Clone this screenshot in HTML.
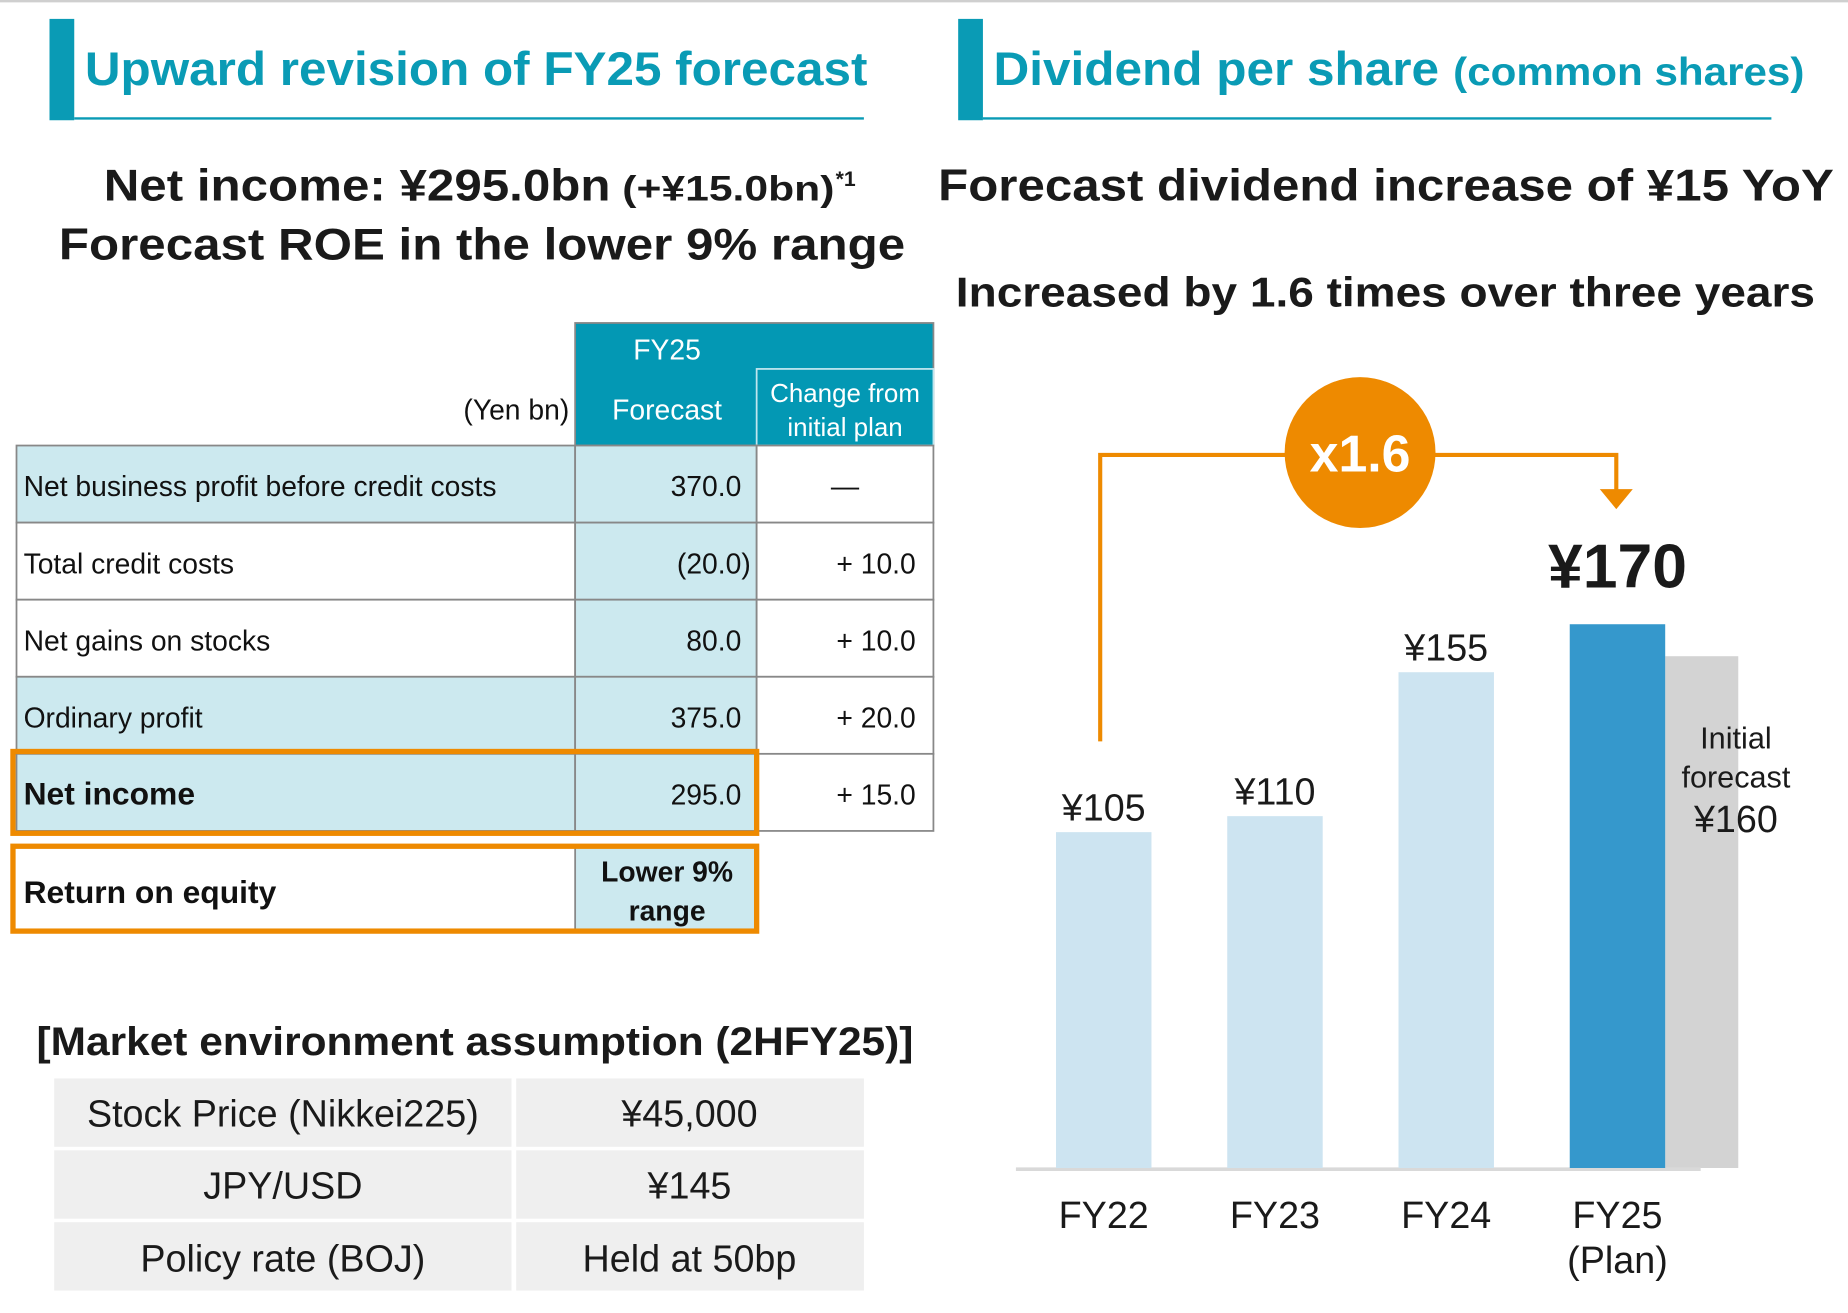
<!DOCTYPE html>
<html><head><meta charset="utf-8">
<style>
html,body{margin:0;padding:0;background:#fff;}
svg{display:block;font-family:"Liberation Sans",Arial,sans-serif;}
</style></head>
<body>
<svg id="root" width="1848" height="1313" viewBox="0 0 1568 1114">
  <line x1="0" y1="1" x2="1568" y2="1" stroke="#cfcfcf" stroke-width="2"/>
  <g>
    <rect x="42" y="16" width="21" height="86" fill="#0a9bb5"/>
    <line x1="63" y1="100.5" x2="733" y2="100.5" stroke="#0a9bb5" stroke-width="2"/>
    <text x="72" y="72" font-size="40" font-weight="bold" fill="#0a9bb5" textLength="664" lengthAdjust="spacingAndGlyphs">Upward revision of FY25 forecast</text>
  </g>
  <g>
    <rect x="813" y="16" width="21" height="86" fill="#0a9bb5"/>
    <line x1="834" y1="100.5" x2="1503" y2="100.5" stroke="#0a9bb5" stroke-width="2"/>
    <text x="843" y="72" font-size="40" font-weight="bold" fill="#0a9bb5" textLength="378" lengthAdjust="spacingAndGlyphs">Dividend per share</text>
    <text x="1233" y="72" font-size="33" font-weight="bold" fill="#0a9bb5" textLength="298" lengthAdjust="spacingAndGlyphs">(common shares)</text>
  </g>
  <text x="88" y="170" font-size="38" font-weight="bold" fill="#1a1a1a" textLength="430" lengthAdjust="spacingAndGlyphs">Net income: ¥295.0bn</text>
  <text x="528" y="170" font-size="30" font-weight="bold" fill="#1a1a1a" textLength="180" lengthAdjust="spacingAndGlyphs">(+¥15.0bn)</text>
  <text x="709" y="158" font-size="18" font-weight="bold" fill="#1a1a1a">*1</text>
  <text x="50" y="220" font-size="38" font-weight="bold" fill="#1a1a1a" textLength="718" lengthAdjust="spacingAndGlyphs">Forecast ROE in the lower 9% range</text>
  <text x="796" y="170" font-size="38" font-weight="bold" fill="#1a1a1a" textLength="760" lengthAdjust="spacingAndGlyphs">Forecast dividend increase of ¥15 YoY</text>
  <text x="811" y="260" font-size="35" font-weight="bold" fill="#1a1a1a" textLength="729" lengthAdjust="spacingAndGlyphs">Increased by 1.6 times over three years</text>

  <g font-size="24" fill="#111">
    <rect x="488" y="274" width="304" height="104" fill="#0398b4" stroke="#888" stroke-width="1.5"/>
    <rect x="642" y="313" width="150" height="65" fill="#0398b4" stroke="#bfe5ee" stroke-width="1.5"/>
    <text x="566" y="305" text-anchor="middle" fill="#fff">FY25</text>
    <text x="566" y="356" text-anchor="middle" fill="#fff">Forecast</text>
    <text x="717" y="341" text-anchor="middle" fill="#fff" font-size="22">Change from</text>
    <text x="717" y="370" text-anchor="middle" fill="#fff" font-size="22">initial plan</text>
    <text x="483" y="356" text-anchor="end">(Yen bn)</text>
    <g id="rows"></g>
  </g>
  <g>
    <rect x="12" y="718" width="476" height="71" fill="#fff"/>
    <rect x="488" y="718" width="153" height="71" fill="#cce9ef"/>
    <line x1="488" y1="718" x2="488" y2="789" stroke="#888" stroke-width="1.5"/>
    <text x="20" y="766" font-size="27" font-weight="bold" fill="#111">Return on equity</text>
    <text x="566" y="748" text-anchor="middle" font-size="24" font-weight="bold" fill="#111">Lower 9%</text>
    <text x="566" y="781" text-anchor="middle" font-size="24" font-weight="bold" fill="#111">range</text>
    <rect x="11" y="718" width="631" height="72" fill="none" stroke="#ee8a00" stroke-width="4.5"/>
  </g>

  <text x="403" y="895" text-anchor="middle" font-size="34" font-weight="bold" fill="#1a1a1a" textLength="744" lengthAdjust="spacingAndGlyphs">[Market environment assumption (2HFY25)]</text>
  <g font-size="32" fill="#1a1a1a">
    <rect x="46" y="915" width="388" height="58" fill="#efefef"/><rect x="438" y="915" width="295" height="58" fill="#efefef"/>
    <rect x="46" y="976" width="388" height="58" fill="#efefef"/><rect x="438" y="976" width="295" height="58" fill="#efefef"/>
    <rect x="46" y="1037" width="388" height="58" fill="#efefef"/><rect x="438" y="1037" width="295" height="58" fill="#efefef"/>
    <text x="240" y="956" text-anchor="middle">Stock Price (Nikkei225)</text>
    <text x="585" y="956" text-anchor="middle">¥45,000</text>
    <text x="240" y="1017" text-anchor="middle">JPY/USD</text>
    <text x="585" y="1017" text-anchor="middle">¥145</text>
    <text x="240" y="1079" text-anchor="middle">Policy rate (BOJ)</text>
    <text x="585" y="1079" text-anchor="middle">Held at 50bp</text>
  </g>

  <g id="chart"></g>
</svg>
<script>
const NS='http://www.w3.org/2000/svg';
function mk(parent,tag,attrs,text){const e=document.createElementNS(NS,tag);for(const k in attrs)e.setAttribute(k,attrs[k]);if(text!==undefined)e.textContent=text;parent.appendChild(e);return e;}

const rowLabels=['Net business profit before credit costs','Total credit costs','Net gains on stocks','Ordinary profit','Net income'];
const rowForecast=['370.0','(20.0)','80.0','375.0','295.0'];
const rowChange=['—','+ 10.0','+ 10.0','+ 20.0','+ 15.0'];
const rowShaded=[true,false,false,true,true];

const rows=document.getElementById('rows');
const top0=378,rh=65.4;
rowLabels.forEach((lab,i)=>{
  const y=top0+i*rh;
  const g=mk(rows,'g',{});
  
  
  mk(g,'rect',{x:14,y:y,width:474,height:rh,fill:rowShaded[i]?'#cce9ef':'#fff',stroke:'#888','stroke-width':1.5});
  mk(g,'rect',{x:488,y:y,width:154,height:rh,fill:'#cce9ef',stroke:'#888','stroke-width':1.5});
  mk(g,'rect',{x:642,y:y,width:150,height:rh,fill:'#fff',stroke:'#888','stroke-width':1.5});
  const bold=i===4;
  const t1=mk(g,'text',{x:20,y:y+43,'font-size':bold?27:24,'font-weight':bold?'bold':'normal'},lab);
  
  
  const fx=rowForecast[i].startsWith('(')?637:629;
  const t2=mk(g,'text',{x:fx,y:y+43,'text-anchor':'end'},rowForecast[i]);
  
  
  const t3=mk(g,'text',{x:i===0?717:777,y:y+43,'text-anchor':i===0?'middle':'end'},rowChange[i]);
  
  
});
const hl=mk(rows,'rect',{x:11,y:top0+4*rh-2,width:631,height:rh+4,fill:'none',stroke:'#ee8a00','stroke-width':4.5});



const categories=['FY22','FY23','FY24','FY25'];
const dividends=[105,110,155,170];
const initialForecast=[160];

const chart=document.getElementById('chart');
const baseY=991, pxPerYen=2.714;
const barW=81;
function yScale(v){return baseY-v*pxPerYen;}
function xBand(i){return 896+i*145.3;}

const gx=xBand(3)+barW;
const gb=mk(chart,'rect',{x:gx,y:yScale(initialForecast[0]),width:62,height:baseY-yScale(initialForecast[0]),fill:'#d3d3d3'});



const ax=mk(chart,'line',{x1:862,y1:baseY+1,x2:1443,y2:baseY+1,stroke:'#d9d9d9','stroke-width':3});



categories.forEach((c,i)=>{
  const x=xBand(i), v=dividends[i], last=i===3;
  const b=mk(chart,'rect',{x:x,y:yScale(v),width:barW,height:baseY-yScale(v),fill:last?'#3598cc':'#cde4f1'});
  
  
  const cx=x+barW/2;
  const lab=mk(chart,'text',{x:cx,y:last?yScale(v)-31:yScale(v)-10,'text-anchor':'middle','font-size':last?53:32,'font-weight':last?'bold':'normal',fill:'#1a1a1a'},'¥'+v);
  
  
  const xl=mk(chart,'text',{x:cx,y:1042,'text-anchor':'middle','font-size':32,fill:'#1a1a1a'},c);
  
  
});
const plan=mk(chart,'text',{x:xBand(3)+barW/2,y:1080,'text-anchor':'middle','font-size':32,fill:'#1a1a1a'},'(Plan)');



const icx=gx+60;
['Initial','forecast'].forEach((t,k)=>{
  const e=mk(chart,'text',{x:icx,y:635+k*33,'text-anchor':'middle','font-size':26,fill:'#1a1a1a'},t);
  
  
});
const iv=mk(chart,'text',{x:icx,y:706,'text-anchor':'middle','font-size':32,fill:'#1a1a1a'},'¥'+initialForecast[0]);



const x0=xBand(0)+barW/2-3, x1=xBand(3)+barW/2-1;
const br=mk(chart,'polyline',{points:`${x0},629 ${x0},386 ${x1},386 ${x1},416`,fill:'none',stroke:'#ee8a00','stroke-width':3.5});


const ar=mk(chart,'polygon',{points:`${x1-14},415 ${x1+14},415 ${x1},432`,fill:'#ee8a00'});


const ci=mk(chart,'ellipse',{cx:1154,cy:384,rx:64,ry:64,fill:'#ee8a00'});


const ct=mk(chart,'text',{x:1154,y:400,'text-anchor':'middle','font-size':44,'font-weight':'bold',fill:'#fff'},'x1.6');


</script>
</body></html>
